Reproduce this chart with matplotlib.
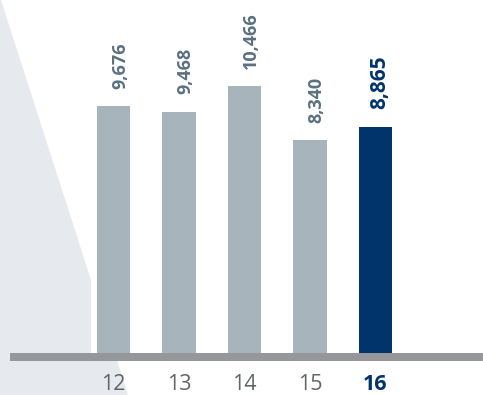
import matplotlib
matplotlib.use('Agg')
import matplotlib.pyplot as plt
from matplotlib.patches import Polygon, Rectangle
from matplotlib.transforms import Affine2D

plt.rcParams['font.family'] = ['Open Sans', 'DejaVu Sans']

years = ['12', '13', '14', '15', '16']
values = [9676, 9468, 10466, 8340, 8865]
highlight = 4

W, H = 483, 395
fig = plt.figure(figsize=(W / 100, H / 100), dpi=100)

# pixel coords measured from top-left
px = Affine2D().scale(1 / W, -1 / H).translate(0, 1) + fig.transFigure

# light background wedge
fig.patches.append(Polygon([(0, 0), (1, 0), (91, 280), (91, 357), (116, 357),
                            (128, 395), (0, 395)], closed=True,
                           facecolor='#e6e9ee', edgecolor='none',
                           transform=px, zorder=-5))

ax = fig.add_axes([0, 42 / H, 1, 353 / H])
ax.patch.set_alpha(0)
ax.set_xlim(-1.733, 5.641)
ax.set_ylim(0, 13843)

x = range(len(years))
colors = ['#a8b4bc'] * len(years)
colors[highlight] = '#00346a'
ax.bar(x, values, width=0.505, color=colors, zorder=2)

for i, v in enumerate(values):
    if i == highlight:
        ax.text(i + 0.06, v + 700, f'{v:,}', rotation=90, ha='center', va='bottom',
                fontsize=15, fontweight='bold', color='#00346a')
    else:
        ax.text(i + 0.1, v + 670, f'{v:,}', rotation=90, ha='center', va='bottom',
                fontsize=13, fontweight='bold', color='#5b7080')

# grey base line
fig.patches.append(Rectangle((10, 353), 473, 8, facecolor='#96979b',
                             edgecolor='none', transform=px, zorder=3))

ax.set_xticks(list(x))
ax.set_xticklabels(years, fontsize=15.5, color='#616469')
ax.tick_params(axis='x', length=0, pad=15)
ax.get_xticklabels()[highlight].set_fontweight('bold')
ax.get_xticklabels()[highlight].set_color('#00346a')
ax.set_yticks([])
for s in ax.spines.values():
    s.set_visible(False)

fig.savefig('out.png', dpi=100)
